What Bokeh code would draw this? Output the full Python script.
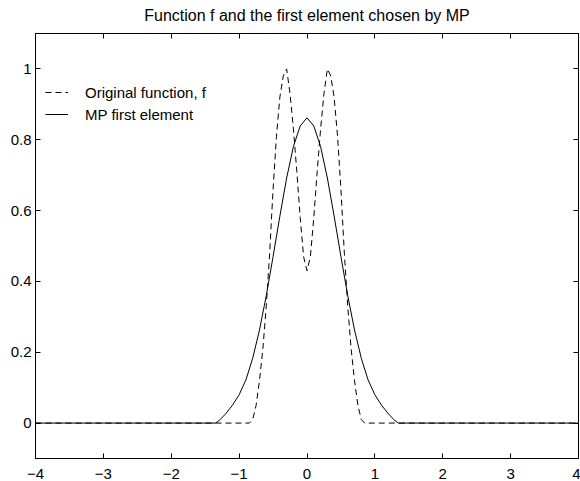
from bokeh.plotting import figure
from bokeh.models import Range1d, LinearAxis, FixedTicker, Legend, LegendItem
from bokeh.embed import file_html
from bokeh.resources import INLINE

title_text = "Function f and the first element chosen by MP"

x_ticks = [-4, -3, -2, -1, 0, 1, 2, 3, 4]
x_tick_labels = ["\u22124", "\u22123", "\u22122", "\u22121", "0", "1", "2", "3", "4"]
y_ticks = [0, 0.2, 0.4, 0.6, 0.8, 1.0]
y_tick_labels = ["0", "0.2", "0.4", "0.6", "0.8", "1"]

# Original function f (dashed)
f_x = [-4, -0.85, -0.8, -0.75, -0.7, -0.65, -0.6, -0.55, -0.5, -0.45, -0.4, -0.35,
       -0.3, -0.25, -0.2, -0.15, -0.1, -0.05, 0.0, 0.05, 0.1, 0.15, 0.2, 0.25,
       0.3, 0.35, 0.4, 0.45, 0.5, 0.55, 0.6, 0.65, 0.7, 0.75, 0.8, 0.85, 4]
f_y = [0, 0, 0.01, 0.05, 0.12, 0.21, 0.33, 0.48, 0.66, 0.81, 0.92, 0.98,
       1.0, 0.93, 0.83, 0.71, 0.58, 0.47, 0.43, 0.47, 0.58, 0.71, 0.83, 0.93,
       1.0, 0.98, 0.92, 0.81, 0.66, 0.48, 0.33, 0.21, 0.12, 0.05, 0.01, 0, 0]

# MP first element (solid)
mp_x = [-4, -1.35, -1.3, -1.2, -1.1, -1.0, -0.9, -0.8, -0.7, -0.6, -0.5, -0.4,
        -0.3, -0.2, -0.1, 0.0, 0.1, 0.2, 0.3, 0.4, 0.5, 0.6, 0.7, 0.8, 0.9,
        1.0, 1.1, 1.2, 1.3, 1.35, 4]
mp_y = [0, 0, 0.006, 0.026, 0.05, 0.08, 0.122, 0.183, 0.263, 0.36, 0.47, 0.584,
        0.692, 0.781, 0.839, 0.862, 0.839, 0.781, 0.692, 0.584, 0.47, 0.36, 0.263,
        0.183, 0.122, 0.08, 0.05, 0.026, 0.006, 0, 0]

FONT = "Liberation Sans"

p = figure(width=580, height=481, output_backend="svg", toolbar_location=None,
           x_range=Range1d(-4, 4), y_range=Range1d(-0.1, 1.1),
           x_axis_location=None, y_axis_location=None,
           min_border_left=35, min_border_right=2, min_border_top=33, min_border_bottom=21)
p.grid.visible = False
p.outline_line_color = "black"
p.outline_line_width = 1
p.background_fill_color = "white"
p.border_fill_color = "white"

def make_axis(ticks, labels, show_labels, standoff=4):
    ax = LinearAxis(ticker=FixedTicker(ticks=ticks))
    ax.major_label_overrides = {t: l for t, l in zip(ticks, labels)}
    ax.major_tick_in = 5
    ax.major_tick_out = 0
    ax.minor_tick_line_color = None
    ax.axis_line_color = "black"
    ax.major_tick_line_color = "black"
    ax.major_label_text_font = FONT
    ax.major_label_text_font_size = "15px"
    ax.major_label_text_color = "black"
    ax.major_label_standoff = standoff
    if not show_labels:
        ax.major_label_text_font_size = "1px"
        ax.major_label_text_color = None
    return ax

p.add_layout(make_axis(x_ticks, x_tick_labels, True, standoff=10), "below")
p.add_layout(make_axis(y_ticks, y_tick_labels, True, standoff=4), "left")

top_axis = make_axis(x_ticks, x_tick_labels, False, standoff=0)
top_axis.axis_label = title_text
top_axis.axis_label_text_font = FONT
top_axis.axis_label_text_font_size = "16px"
top_axis.axis_label_text_font_style = "normal"
top_axis.axis_label_text_color = "black"
top_axis.axis_label_standoff = 10
p.add_layout(top_axis, "above")
p.add_layout(make_axis(y_ticks, y_tick_labels, False, standoff=0), "right")

r_f = p.line(f_x, f_y, line_color="black", line_width=1, line_dash="6 4")
r_mp = p.line(mp_x, mp_y, line_color="black", line_width=1)

legend = Legend(items=[LegendItem(label="Original function, f", renderers=[r_f]),
                       LegendItem(label="MP first element", renderers=[r_mp])],
                location=(10, 334), border_line_alpha=0, background_fill_alpha=0,
                padding=0, margin=0, spacing=2, glyph_width=23, glyph_height=20,
                label_height=20, label_standoff=17,
                label_text_font=FONT, label_text_font_size="15px",
                label_text_color="black")
p.add_layout(legend)

open("out.html", "w").write(file_html(p, INLINE))
